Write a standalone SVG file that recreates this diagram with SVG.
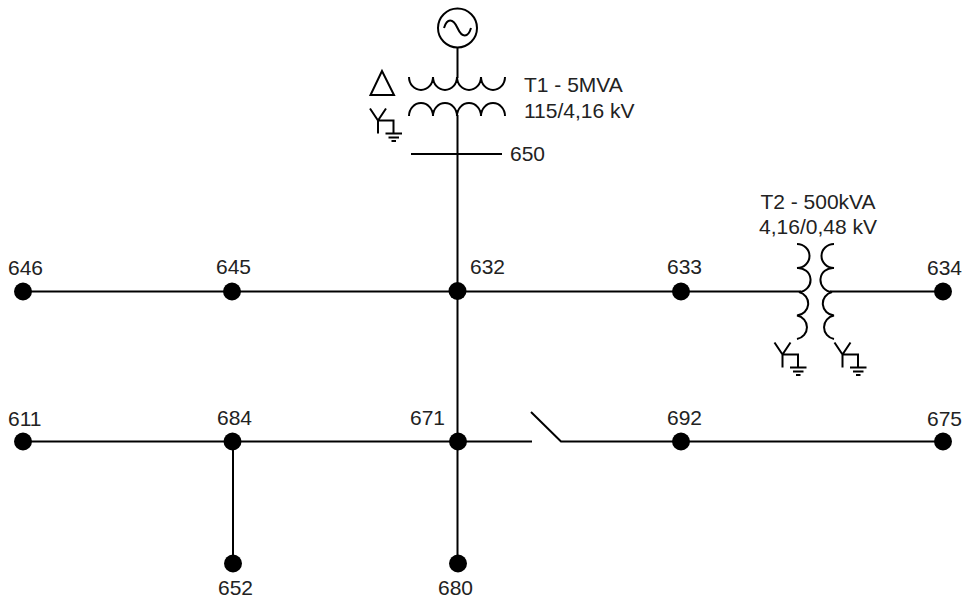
<svg xmlns="http://www.w3.org/2000/svg" width="965" height="598" viewBox="0 0 965 598">
<style>
.w{fill:none;stroke:#000;stroke-width:2}
.n{fill:#000}
text{font-family:"Liberation Sans",Arial,sans-serif;font-size:21px;fill:#222}
</style>
<defs>
<g id="wye"><path class="w" d="M-8-12L0 0M8-12L0 0V13M0 0H15.500V13M7.500 13H24M10.500 17H21M13.500 20.500H18"/></g>
<circle id="dot" class="n" r="9"/>
</defs>
<rect width="965" height="598" fill="#fff"/>
<g id="connectors">
<path class="w" d="M457.500 47V78M457.500 115V564"/>
<path class="w" d="M411 154H502"/>
<path class="w" d="M23 291.500H801M830 291.500H943"/>
<path class="w" d="M23 441.500H532M531 412L561 441.500H943"/>
<path class="w" d="M233 441.500V564"/>
</g>
<g id="source"><circle class="w" cx="457.500" cy="28" r="19.500"/><path class="w" d="M444 28C447 18 453 18 457.500 28S468 38 471 28"/></g>
<g id="T1"><path class="w" d="M409 77A12 13 0 0 0 433 77A12 13 0 0 0 457 77A12 13 0 0 0 481 77A12 13 0 0 0 505 77"/>
<path class="w" d="M409 116A12 13 0 0 1 433 116A12 13 0 0 1 457 116A12 13 0 0 1 481 116A12 13 0 0 1 505 116"/>
<path class="w" d="M382 71L370.500 95H394Z"/>
<use href="#wye" x="378" y="120.500"/>
<text x="524" y="92">T1 - 5MVA</text><text x="524" y="118">115/4,16 kV</text></g>
<g id="T2"><path class="w" d="M797 244A12.500 12 0 0 1 797 268A12.500 12 0 0 1 799 292A12.500 12 0 0 1 797 315.500A12.500 12 0 0 1 797 339"/>
<path class="w" d="M834 244A12.500 12 0 0 0 834 268A12.500 12 0 0 0 832 292A12.500 12 0 0 0 834 315.500A12.500 12 0 0 0 834 339"/>
<use href="#wye" x="782.500" y="354.500"/><use href="#wye" x="842.500" y="354.500"/>
<text x="818" y="209" text-anchor="middle">T2 - 500kVA</text><text x="818" y="234" text-anchor="middle">4,16/0,48 kV</text></g>
<g id="n650"><text x="510" y="161">650</text></g>
<g id="n646"><use href="#dot" x="23" y="291.500"/><text x="8" y="275">646</text></g>
<g id="n645"><use href="#dot" x="232" y="291.500"/><text x="216" y="274">645</text></g>
<g id="n632"><use href="#dot" x="457.500" y="291"/><text x="470" y="274">632</text></g>
<g id="n633"><use href="#dot" x="681" y="291.500"/><text x="667" y="274">633</text></g>
<g id="n634"><use href="#dot" x="943" y="291.500"/><text x="927" y="275">634</text></g>
<g id="n611"><use href="#dot" x="23" y="441.500"/><text x="8" y="426">611</text></g>
<g id="n684"><use href="#dot" x="232.500" y="441.500"/><text x="217" y="425">684</text></g>
<g id="n671"><use href="#dot" x="458" y="441.500"/><text x="410" y="425">671</text></g>
<g id="n692"><use href="#dot" x="681" y="441.500"/><text x="667" y="425">692</text></g>
<g id="n675"><use href="#dot" x="943" y="441.500"/><text x="927" y="426">675</text></g>
<g id="n652"><use href="#dot" x="233" y="563.500"/><text x="218" y="595">652</text></g>
<g id="n680"><use href="#dot" x="458" y="563.500"/><text x="438" y="595">680</text></g>
</svg>
